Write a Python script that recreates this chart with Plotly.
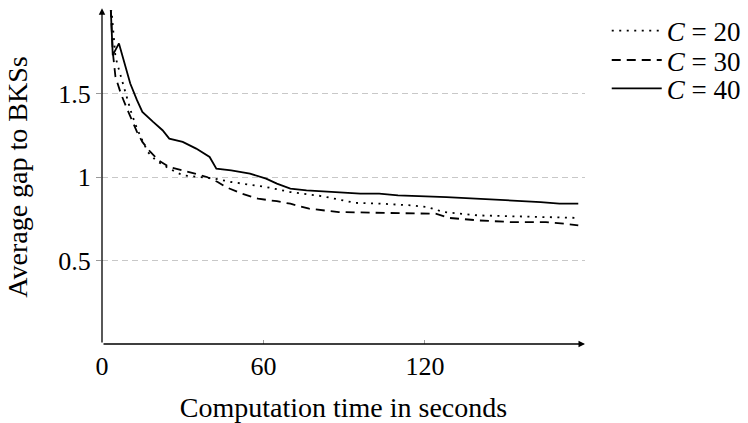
import plotly.graph_objects as go

# C = 20 (dotted)
t20 = [3, 5, 6, 7, 9, 11, 13, 15, 17, 20, 25, 30, 36, 42, 48, 55, 61, 70, 82, 94, 104, 115, 121, 127, 140, 152, 165, 177]
g20 = [2.1, 1.72, 1.66, 1.6, 1.49, 1.38, 1.29, 1.22, 1.15, 1.1, 1.05, 1.01, 1.0, 0.99, 0.97, 0.955, 0.94, 0.91, 0.885, 0.845, 0.84, 0.83, 0.82, 0.79, 0.77, 0.765, 0.76, 0.755]

# C = 30 (dashed)
t30 = [3, 4, 5, 7, 9, 11, 13, 15, 18, 21, 25, 30, 35, 39, 43, 46, 52, 58, 65, 70, 77, 88, 105, 124, 129, 140, 152, 165, 172, 177]
g30 = [2.1, 1.75, 1.6, 1.5, 1.42, 1.34, 1.27, 1.21, 1.15, 1.1, 1.06, 1.04, 1.02, 1.0, 0.97, 0.94, 0.9, 0.87, 0.855, 0.84, 0.81, 0.79, 0.785, 0.78, 0.755, 0.74, 0.73, 0.73, 0.72, 0.71]

# C = 40 (solid)
t40 = [3, 4, 6.3, 8.5, 10.5, 13, 15, 19, 22.5, 25, 30, 35, 39, 40, 42.5, 48, 55, 61, 65, 70, 76, 86, 96, 103, 110, 128, 140, 152, 163, 170, 177]
g40 = [2.1, 1.73, 1.8, 1.67, 1.56, 1.46, 1.39, 1.33, 1.28, 1.23, 1.21, 1.17, 1.13, 1.12, 1.05, 1.04, 1.02, 0.99, 0.96, 0.93, 0.92, 0.91, 0.90, 0.90, 0.89, 0.88, 0.87, 0.86, 0.85, 0.84, 0.84]

x_ticks = [0, 60, 120]
y_ticks = [0.5, 1, 1.5]
x_max = 179.5
y_max = 2.0

FONT = "Liberation Serif"
FS_TICK = 26
FS_TITLE = 28
FS_LEG = 27

fig = go.Figure()
fig.add_trace(go.Scatter(x=t20, y=g20, mode="lines", name="<i>C</i> = 20", legend="legend",
                         line=dict(color="black", width=1.8, dash="2px,5.5px")))
fig.add_trace(go.Scatter(x=t30, y=g30, mode="lines", name="<i>C</i> = 30", legend="legend2",
                         line=dict(color="black", width=1.8, dash="9px,6px")))
fig.add_trace(go.Scatter(x=t40, y=g40, mode="lines", name="<i>C</i> = 40", legend="legend3",
                         line=dict(color="black", width=1.8)))

# axis lines with arrows
fig.add_annotation(x=0, y=y_max + 0.01, ax=0, ay=0, xref="x", yref="y", axref="x", ayref="y",
                   showarrow=True, arrowhead=2, arrowsize=1, arrowwidth=1.3, arrowcolor="black", text="")
fig.add_annotation(x=x_max, y=0, ax=0, ay=0, xref="x", yref="y", axref="x", ayref="y",
                   showarrow=True, arrowhead=2, arrowsize=1, arrowwidth=1.3, arrowcolor="black", text="")

leg_common = dict(x=1.045, xanchor="left", yanchor="middle", bgcolor="rgba(0,0,0,0)",
                  font=dict(family=FONT, size=FS_LEG), itemwidth=50)

fig.update_layout(
    width=748, height=423,
    template="none",
    paper_bgcolor="white", plot_bgcolor="white",
    margin=dict(l=102, r=163, t=10, b=79, autoexpand=False),
    font=dict(family=FONT, size=FS_TICK, color="black"),
    showlegend=True,
    legend=dict(y=0.937, **leg_common),
    legend2=dict(y=0.849, **leg_common),
    legend3=dict(y=0.764, **leg_common),
    xaxis=dict(range=[0, x_max], tickvals=x_ticks, ticktext=[str(v) for v in x_ticks],
               showgrid=False, zeroline=False, showline=False,
               ticks="inside", ticklen=4, tickcolor="#999", tickwidth=1,
               ticklabelstandoff=4, automargin=False,
               tickfont=dict(family=FONT, size=FS_TICK),
               title=dict(text="Computation time in seconds", standoff=20,
                          font=dict(family=FONT, size=FS_TITLE))),
    yaxis=dict(range=[0, y_max], tickvals=y_ticks, ticktext=["0.5", "1", "1.5"],
               showgrid=True, gridcolor="#c8c8c8", griddash="6px,4px", gridwidth=1,
               zeroline=False, showline=False,
               ticks="outside", ticklen=5, tickcolor="#999", tickwidth=1,
               automargin=False,
               tickfont=dict(family=FONT, size=FS_TICK),
               title=dict(text="Average gap to BKSs", standoff=22,
                          font=dict(family=FONT, size=FS_TITLE))),
)

fig.write_html("out.html")
